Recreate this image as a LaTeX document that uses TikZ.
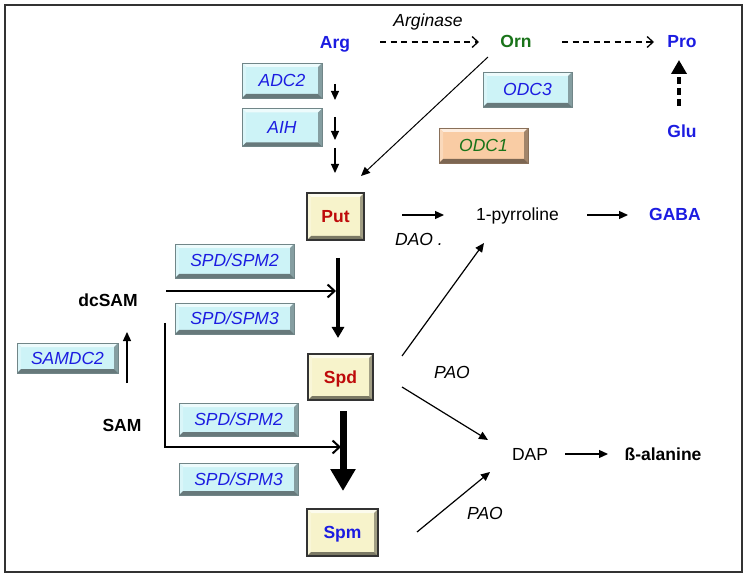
\documentclass[tikz,border=0pt]{standalone}
\usepackage{fontspec}
\setmainfont{Liberation Sans}
\usetikzlibrary{arrows.meta}
\definecolor{mblue}{RGB}{28,28,225}
\definecolor{mgreen}{RGB}{25,115,25}
\definecolor{mred}{RGB}{190,10,10}
\definecolor{cyanbox}{RGB}{205,243,247}
\definecolor{orangebox}{RGB}{249,204,164}
\definecolor{yellowbox}{RGB}{247,243,203}
\definecolor{framegray}{RGB}{50,50,50}
\begin{document}
\begin{tikzpicture}[x=1pt,y=-1pt,
  lbl/.style={inner sep=0pt, text height=12pt, text depth=0pt, font=\fontsize{17.5}{20}\selectfont},
  met/.style={lbl, font=\fontsize{17.5}{20}\selectfont\bfseries},
  enzl/.style={lbl, font=\fontsize{17.5}{20}\selectfont\itshape},
  bevel/.style={path picture={
    \fill[#1!35!white] (path picture bounding box.north west) -- (path picture bounding box.north east) -- ([shift={(-4pt,-4pt)}]path picture bounding box.north east) -- ([shift={(4pt,-4pt)}]path picture bounding box.north west) -- cycle;
    \fill[#1!75!white] (path picture bounding box.north west) -- ([shift={(4pt,-4pt)}]path picture bounding box.north west) -- ([shift={(4pt,4pt)}]path picture bounding box.south west) -- (path picture bounding box.south west) -- cycle;
    \fill[#1!65!black] (path picture bounding box.north east) -- ([shift={(-4pt,-4pt)}]path picture bounding box.north east) -- ([shift={(-4pt,4pt)}]path picture bounding box.south east) -- (path picture bounding box.south east) -- cycle;
    \fill[#1!50!black] (path picture bounding box.south west) -- ([shift={(4pt,4pt)}]path picture bounding box.south west) -- ([shift={(-4pt,4pt)}]path picture bounding box.south east) -- (path picture bounding box.south east) -- cycle;
  }},
  enzbox/.style={enzl, fill=#1, draw=#1!55!black, line width=0.5pt, bevel=#1},
  metbox/.style={met, fill=yellowbox, draw=black!80, line width=1.5pt, bevel=yellowbox},
  thin/.style={line width=1.2pt, -{Triangle[length=9pt,width=8pt]}},
  barb/.style={line width=1.3pt, -{Straight Barb[length=6pt,width=11pt]}},
  dashbarb/.style={barb, dash pattern=on 6pt off 4.5pt},
  bigbarb/.style={line width=2pt, -{Straight Barb[length=7pt,width=13pt]}},
  thickarrow/.style={line width=3.5pt, -{Triangle[length=11pt,width=12pt]}},
  hugearrow/.style={line width=7pt, -{Triangle[length=22pt,width=24pt]}},
  gluarrow/.style={line width=4pt, dash pattern=on 7pt off 4pt, -{Triangle[length=14pt,width=15pt]}}
]
\useasboundingbox (0,0) rectangle (747,577);
\draw[framegray, line width=2pt] (4.5,4.7) rectangle (741.5,572);

% metabolites (text)
\node[met, text=mblue] (arg) at (335,43) {Arg};
\node[enzl] (arginase) at (428,21) {Arginase};
\node[met, text=mgreen] (orn) at (516,42) {Orn};
\node[met, text=mblue] (pro) at (682,42) {Pro};
\node[met, text=mblue] (glu) at (682,132) {Glu};
\node[lbl] (pyr) at (517.5,215) {1-pyrroline};
\node[met, text=mblue] (gaba) at (675,215) {GABA};
\node[enzl] (dao) at (419,240) {DAO .};
\node[enzl] (pao1) at (452,372) {PAO};
\node[lbl] (dap) at (530,454) {DAP};
\node[met] (bala) at (663,454) {ß-alanine};
\node[enzl] (pao2) at (485,513) {PAO};
\node[met] (dcsam) at (108,301) {dcSAM};
\node[met] (sam) at (122,425) {SAM};

% enzyme boxes
\node[enzbox=cyanbox, text=mblue, minimum width=80pt, minimum height=35pt] (adc2) at (282,80.5) {ADC2};
\node[enzbox=cyanbox, text=mblue, minimum width=80pt, minimum height=38pt] (aih) at (282,127.5) {AIH};
\node[enzbox=cyanbox, text=mblue, minimum width=89pt, minimum height=35pt] (odc3) at (527.5,89.5) {ODC3};
\node[enzbox=orangebox, text=mgreen, minimum width=89pt, minimum height=35pt] (odc1) at (483.5,145.5) {ODC1};
\node[enzbox=cyanbox, text=mblue, minimum width=119pt, minimum height=34pt] (spd2u) at (234.5,261) {SPD/SPM2};
\node[enzbox=cyanbox, text=mblue, minimum width=119pt, minimum height=31pt] (spd3u) at (234.5,318.5) {SPD/SPM3};
\node[enzbox=cyanbox, text=mblue, minimum width=101pt, minimum height=30pt] (samdc2) at (67.5,358) {SAMDC2};
\node[enzbox=cyanbox, text=mblue, minimum width=119pt, minimum height=33pt] (spd2l) at (238.5,419.5) {SPD/SPM2};
\node[enzbox=cyanbox, text=mblue, minimum width=119pt, minimum height=32pt] (spd3l) at (238.5,479) {SPD/SPM3};

% metabolite boxes
\node[metbox, text=mred, minimum width=57pt, minimum height=47pt] (put) at (335.5,216.5) {Put};
\node[metbox, text=mred, minimum width=65pt, minimum height=46pt] (spd) at (340.5,377) {Spd};
\node[metbox, text=mblue, minimum width=71pt, minimum height=47pt] (spm) at (342.5,532.5) {Spm};

% free connector ends
\coordinate (a1s) at (335,84);  \coordinate (a1e) at (335,100);
\coordinate (a2s) at (335,117); \coordinate (a2e) at (335,140);
\coordinate (a3s) at (335,148); \coordinate (a3e) at (335,173);
\coordinate (ornS) at (488,57); \coordinate (putN) at (361,176);
\coordinate (putE) at (402,215); \coordinate (pyrW) at (444,215);
\coordinate (pyrE) at (587,215); \coordinate (gabaW) at (628,215);
\coordinate (spdNE) at (402,356); \coordinate (pyrS) at (484,243);
\coordinate (spdE) at (402,387); \coordinate (dapNW) at (488,440);
\coordinate (spmE) at (417,532); \coordinate (dapSW) at (490,472);
\coordinate (dapE) at (565,454); \coordinate (balaW) at (608,454);
\coordinate (putS) at (338,258); \coordinate (spdN) at (338,338);
\coordinate (dcE) at (166,291); \coordinate (dcT) at (336,291);
\coordinate (samN) at (127,383); \coordinate (dcS) at (127,332);
\coordinate (br1) at (165,323); \coordinate (br2) at (165,447); \coordinate (br3) at (341,447);
\coordinate (spdS) at (343,411); \coordinate (spmN) at (343,491);
\coordinate (argE) at (380,42); \coordinate (ornW) at (479,42);
\coordinate (ornE) at (562,42); \coordinate (proW) at (654,42);
\coordinate (gluN) at (679,106); \coordinate (proS) at (679,60);

% connectors
\draw[dashbarb] (argE) -- (ornW);
\draw[dashbarb] (ornE) -- (proW);
\draw[gluarrow] (gluN) -- (proS);
\draw[thin] (a1s) -- (a1e);
\draw[thin] (a2s) -- (a2e);
\draw[thin] (a3s) -- (a3e);
\draw[thin, line width=1pt] (ornS) -- (putN);
\draw[thin] (putE) -- (pyrW);
\draw[thin] (pyrE) -- (gabaW);
\draw[thin] (spdNE) -- (pyrS);
\draw[thin] (spdE) -- (dapNW);
\draw[thin] (spmE) -- (dapSW);
\draw[thin] (dapE) -- (balaW);
\draw[thickarrow] (putS) -- (spdN);
\draw[bigbarb] (dcE) -- (dcT);
\draw[thin] (samN) -- (dcS);
\draw[bigbarb] (br1) -- (br2) -- (br3);
\draw[hugearrow] (spdS) -- (spmN);
\end{tikzpicture}
\end{document}
